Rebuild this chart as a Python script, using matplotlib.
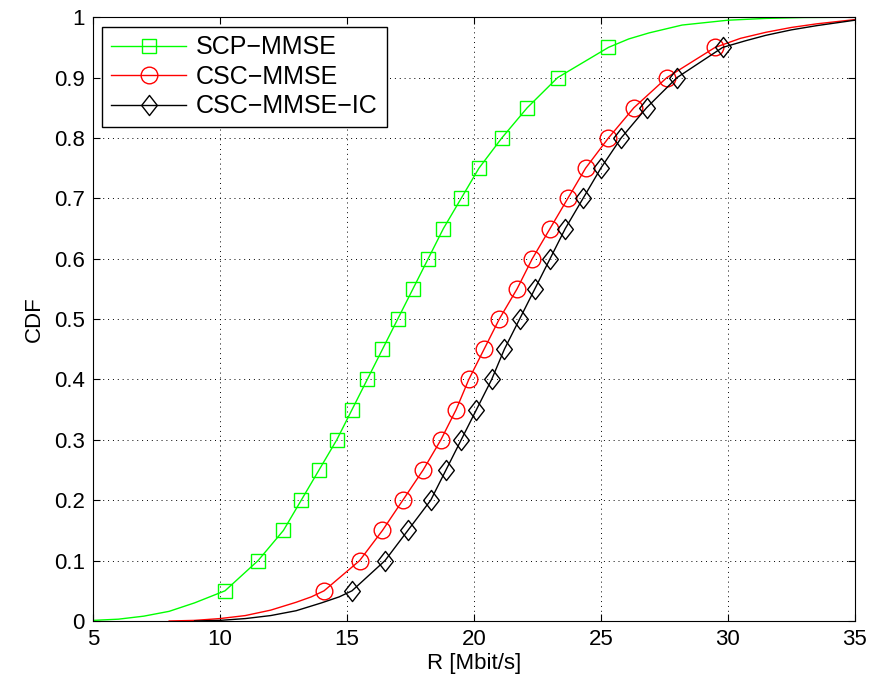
import numpy as np
import matplotlib
matplotlib.use('Agg')
import matplotlib.pyplot as plt
from matplotlib.path import Path

plt.rcParams['font.family'] = ['Liberation Sans', 'DejaVu Sans']

# CDF levels where the markers sit
levels = [0.05, 0.1, 0.15, 0.2, 0.25, 0.3, 0.35, 0.4, 0.45, 0.5,
          0.55, 0.6, 0.65, 0.7, 0.75, 0.8, 0.85, 0.9, 0.95]

scp_x = [10.2, 11.5, 12.5, 13.2, 13.9, 14.6, 15.2, 15.8, 16.4, 17.0,
         17.6, 18.2, 18.8, 19.5, 20.2, 21.1, 22.1, 23.3, 25.3]
csc_x = [14.1, 15.5, 16.4, 17.2, 18.0, 18.7, 19.3, 19.8, 20.4, 21.0,
         21.7, 22.3, 23.0, 23.7, 24.4, 25.3, 26.3, 27.6, 29.5]
cscic_x = [15.2, 16.5, 17.4, 18.3, 18.9, 19.5, 20.1, 20.7, 21.2, 21.8,
           22.4, 23.0, 23.6, 24.3, 25.0, 25.8, 26.8, 28.0, 29.8]

# tails of the curves (outside marker range)
scp_lo_x = [5, 6, 7, 8, 9, 9.6]
scp_lo_y = [0.001, 0.003, 0.008, 0.016, 0.03, 0.04]
scp_hi_x = [26.1, 26.9, 28.2, 30, 31.5, 33, 35]
scp_hi_y = [0.964, 0.974, 0.987, 0.995, 0.998, 0.9995, 1.0]

csc_lo_x = [8, 9, 10, 11, 12, 13, 13.6]
csc_lo_y = [0.0, 0.001, 0.004, 0.009, 0.018, 0.031, 0.04]
csc_hi_x = [30.5, 31.5, 32.5, 33.5, 35]
csc_hi_y = [0.965, 0.975, 0.983, 0.989, 0.996]

cscic_lo_x = [9, 10, 11, 12, 13, 14, 14.7]
cscic_lo_y = [0.0, 0.001, 0.004, 0.009, 0.017, 0.03, 0.04]
cscic_hi_x = [30.7, 31.5, 32.5, 33.5, 35]
cscic_hi_y = [0.961, 0.97, 0.979, 0.986, 0.995]

# MATLAB-like diamond (a bit taller than wide)
diamond = Path([(0, 1), (0.78, 0), (0, -1), (-0.78, 0), (0, 1)],
               [Path.MOVETO, Path.LINETO, Path.LINETO, Path.LINETO, Path.CLOSEPOLY])

fig = plt.figure(figsize=(8.74, 6.88), dpi=100)
ax = fig.add_axes([0.1064, 0.0974, 0.8716, 0.8776])

series = [
    ('SCP\u2212MMSE', scp_x, scp_lo_x, scp_lo_y, scp_hi_x, scp_hi_y, (0, 1, 0), 's', 10),
    ('CSC\u2212MMSE', csc_x, csc_lo_x, csc_lo_y, csc_hi_x, csc_hi_y, (1, 0, 0), 'o', 12),
    ('CSC\u2212MMSE\u2212IC', cscic_x, cscic_lo_x, cscic_lo_y, cscic_hi_x, cscic_hi_y, 'k', diamond, 14.5),
]

for name, mx, lx, ly, hx, hy, col, mk, ms in series:
    xs = lx + mx + hx
    ys = ly + levels + hy
    ax.plot(xs, ys, color=col, lw=1.0)
    ax.plot(mx, levels, linestyle='none', marker=mk, ms=ms, mfc='none', mec=col, mew=1.0)
    ax.plot([], [], color=col, lw=1.0, marker=mk, ms=ms, mfc='none', mec=col, mew=1.0, label=name)

ax.set_xlim(5, 35)
ax.set_ylim(0, 1)
ax.set_xticks(np.arange(5, 36, 5))
ax.set_yticks(np.arange(0, 1.01, 0.1))
ax.set_yticklabels(['0', '0.1', '0.2', '0.3', '0.4', '0.5', '0.6', '0.7', '0.8', '0.9', '1'])
ax.tick_params(direction='in', top=True, right=True, labelsize=16, length=5, pad=6)
ax.grid(True, linestyle=(0, (1, 4)), color='k', lw=0.7)
ax.set_xlabel('R [Mbit/s]', fontsize=16, labelpad=2)
ax.set_ylabel('CDF', fontsize=16, labelpad=6)

leg = ax.legend(loc='upper left', fontsize=18, fancybox=False, framealpha=1,
                edgecolor='k', borderaxespad=0.38, handlelength=3.0, handletextpad=0.4,
                labelspacing=0.22, borderpad=0.35)
leg.get_frame().set_linewidth(1.0)

fig.savefig('out.png', dpi=100)
